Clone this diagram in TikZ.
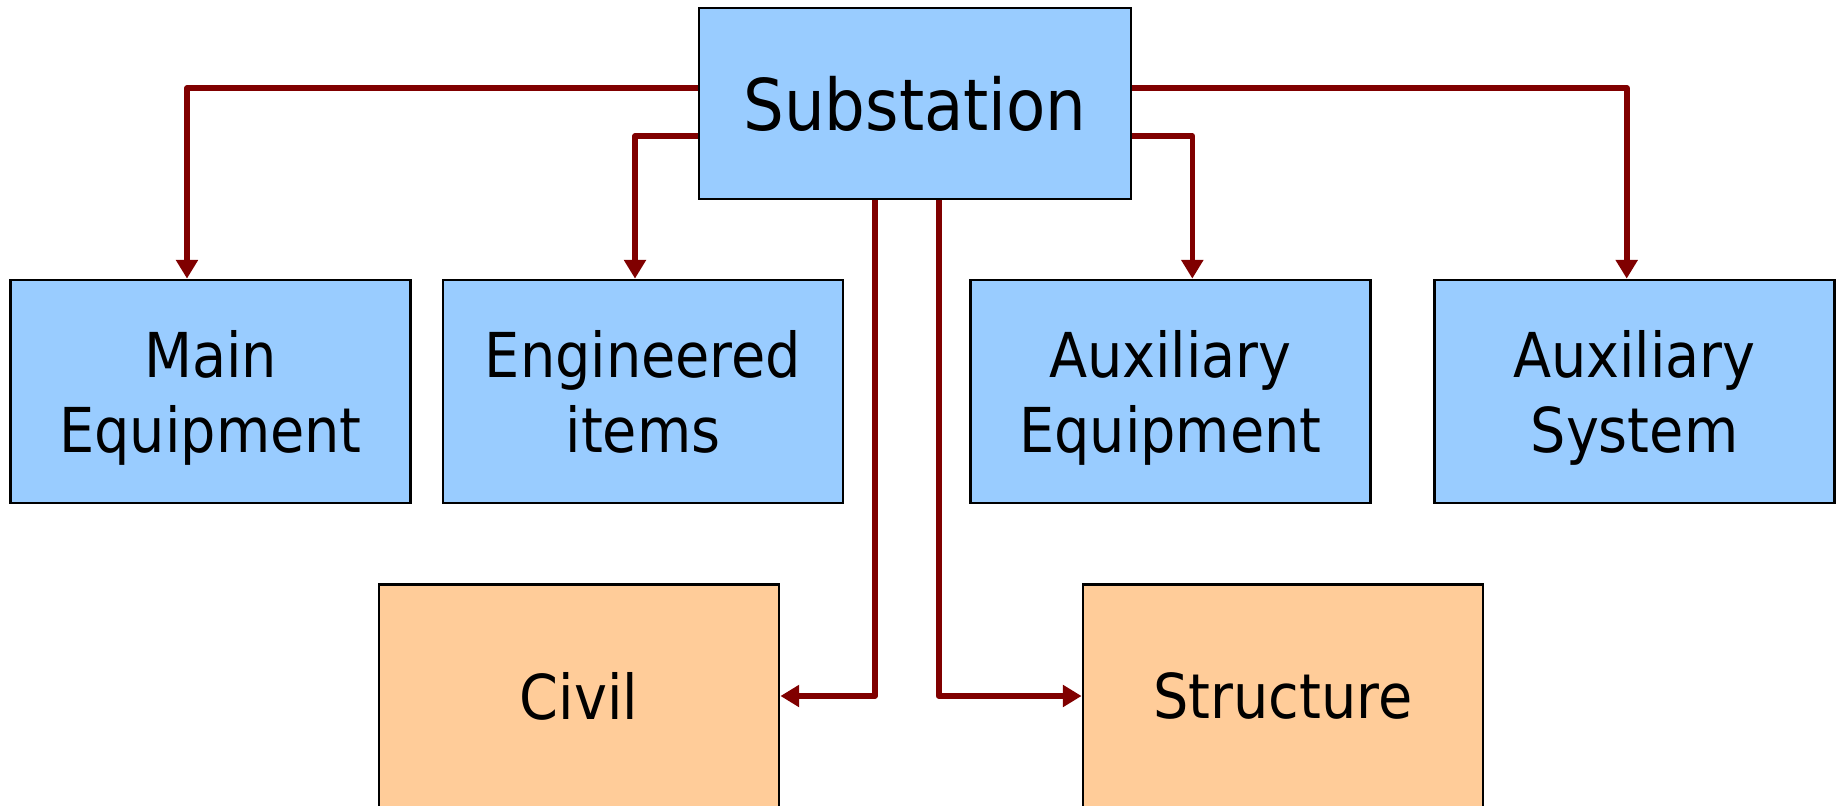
\documentclass[tikz,border=0pt]{standalone}
\usepackage{fontspec}
\setmainfont{DejaVu Sans Condensed}
\usepackage{tikz}
\usetikzlibrary{arrows.meta}
\usetikzlibrary{calc}

\definecolor{skyblue}{RGB}{153,204,255}
\definecolor{peach}{RGB}{255,204,153}
\definecolor{linkred}{RGB}{128,0,0}

\tikzset{
  box/.style={draw=black, line width=0.75pt, inner sep=0pt, align=center,
    minimum width=4cm, minimum height=2.23cm, text depth=0pt,
    font=\fontsize{17.6}{21.6}\selectfont},
  partbox/.style={box, fill=skyblue},
  workbox/.style={box, fill=peach},
  link/.style={draw=linkred, line width=1.6pt, line join=round,
    -{Triangle[length=5.3pt,width=6pt]}}
}

\begin{document}
\begin{tikzpicture}[x=0.01cm,y=-0.01cm]
  \useasboundingbox (0,0) rectangle (1839,806);
  \clip (0,0) rectangle (1839,806);

  % top of the tree
  \node[partbox, minimum width=4.32cm, minimum height=1.91cm,
        font=\fontsize{20.3}{24}\selectfont] (sub) at (915,103.5) {Substation};

  % first row
  \node[partbox] (main) at (210.6,391.5) {Main\\Equipment};
  \node[partbox] (eng) at (643,391.5) {Engineered\\items};
  \node[partbox] (auxeq) at (1170.5,391.5) {Auxiliary\\Equipment};
  \node[partbox] (auxsys) at (1634.5,391.5) {Auxiliary\\System};

  % second row
  \node[workbox] (civil) at (579,696) {Civil};
  \node[workbox] (struct) at (1283,696) {Structure};

  % links out of the sides
  \draw[link] ([yshift=0.155cm]sub.west) -| ([xshift=-0.236cm]main.north);
  \draw[link] ([yshift=-0.325cm]sub.west) -| ([xshift=-0.08cm]eng.north);
  \draw[link] ([yshift=-0.325cm]sub.east) -| ([xshift=0.218cm]auxeq.north);
  \draw[link] ([yshift=0.155cm]sub.east) -| ([xshift=-0.078cm]auxsys.north);

  % links out of the bottom
  \draw[link] ([xshift=-0.4cm]sub.south) |- (civil.east);
  \draw[link] ([xshift=0.237cm]sub.south) |- (struct.west);
\end{tikzpicture}
\end{document}
